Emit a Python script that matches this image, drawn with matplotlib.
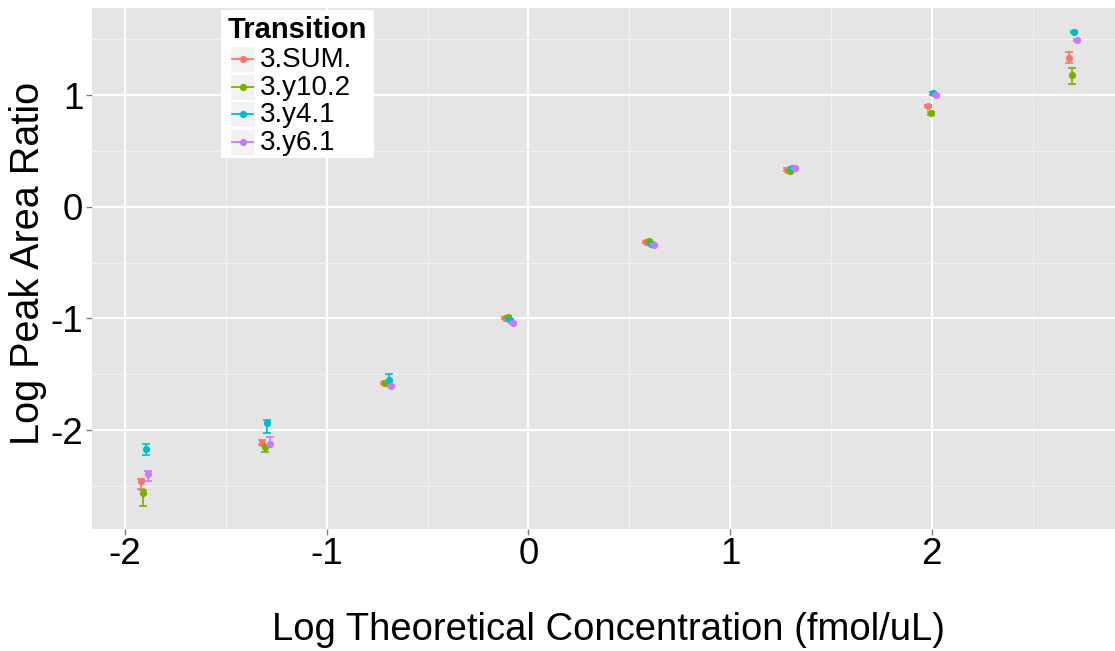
import matplotlib
matplotlib.use("Agg")
import matplotlib.pyplot as plt
from matplotlib.patches import Rectangle
from matplotlib.lines import Line2D
import numpy as np

plt.rcParams['font.family'] = ['Liberation Sans', 'DejaVu Sans']

# ---- data ----
log_conc = [-1.903, -1.301, -0.699, -0.097, 0.602, 1.301, 2.0, 2.699]
transitions = ["3.SUM.", "3.y10.2", "3.y4.1", "3.y6.1"]
sum_vals = [-2.457, -2.12, -1.577, -1.0, -0.318, 0.333, 0.904, 1.333]
y10_vals = [-2.56, -2.156, -1.575, -0.99, -0.309, 0.318, 0.841, 1.18]
y4_vals = [-2.174, -1.934, -1.55, -1.018, -0.33, 0.35, 1.015, 1.565]
y6_vals = [-2.39, -2.126, -1.606, -1.04, -0.34, 0.347, 1.0, 1.49]
# error extents below / above each point
sum_err_lo = [0.068, 0.01, 0.01, 0.01, 0.01, 0.01, 0.01, 0.05]
sum_err_hi = [0.02, 0.03, 0.01, 0.01, 0.01, 0.01, 0.01, 0.05]
y10_err_lo = [0.12, 0.045, 0.01, 0.01, 0.01, 0.01, 0.02, 0.08]
y10_err_hi = [0.02, 0.01, 0.01, 0.01, 0.01, 0.01, 0.01, 0.063]
y4_err_lo = [0.05, 0.09, 0.01, 0.01, 0.01, 0.01, 0.01, 0.01]
y4_err_hi = [0.048, 0.02, 0.054, 0.01, 0.01, 0.01, 0.01, 0.01]
y6_err_lo = [0.069, 0.01, 0.01, 0.01, 0.01, 0.01, 0.01, 0.01]
y6_err_hi = [0.024, 0.06, 0.01, 0.01, 0.01, 0.01, 0.01, 0.01]
x_ticks = [-2, -1, 0, 1, 2]
y_ticks = [-2, -1, 0, 1]

series = [sum_vals, y10_vals, y4_vals, y6_vals]
errors = [(sum_err_lo, sum_err_hi), (y10_err_lo, y10_err_hi),
          (y4_err_lo, y4_err_hi), (y6_err_lo, y6_err_hi)]
colors = ["#F8766D", "#7CAE00", "#00BFC4", "#C77CFF"]

W, H = 1115, 651
fig = plt.figure(figsize=(W / 100, H / 100), dpi=100)
fig.patch.set_facecolor("white")

left_px, right_px, top_px, bottom_px = 92, 1115, 8, 528.7
ax = fig.add_axes([left_px / W, (H - bottom_px) / H,
                   (right_px - left_px) / W, (bottom_px - top_px) / H])
ax.set_facecolor("#E5E5E5")
for s in ax.spines.values():
    s.set_visible(False)

ax.set_xlim(-2.1636, 2.908)
ax.set_ylim(-2.884, 1.78)

# grid
ax.set_xticks(x_ticks)
ax.set_yticks(y_ticks)
ax.set_xticks([-1.5, -0.5, 0.5, 1.5, 2.5], minor=True)
ax.set_yticks([-2.5, -1.5, -0.5, 0.5, 1.5], minor=True)
ax.grid(which="major", color="white", linewidth=1.5)
ax.grid(which="minor", color="#F2F2F2", linewidth=0.8)
ax.set_axisbelow(True)
ax.tick_params(which="minor", length=0)
ax.tick_params(which="major", length=4.3, width=1, color="#7F7F7F",
               labelsize=26.5, labelcolor="black", pad=2)
ax.set_xticklabels([str(t) for t in x_ticks])
ax.set_yticklabels([str(t) for t in y_ticks])

dodge = 0.05
n = len(series)
for i, (vals, (elo, ehi), col) in enumerate(zip(series, errors, colors)):
    off = (i - (n - 1) / 2) * dodge / n
    xs = np.array(log_conc) + off
    ax.errorbar(xs, vals, yerr=[elo, ehi], fmt="none", ecolor=col,
                elinewidth=1.2, capsize=2.8, capthick=1.2, zorder=3 + i)
    ax.plot(xs, vals, "o", color=col, markersize=5.2, markeredgewidth=0,
            zorder=3 + i)

# axis titles
fig.text(608 / W, (H - 640) / H, "Log Theoretical Concentration (fmol/uL)",
         ha="center", va="baseline", fontsize=27.5)
fig.text(28 / W, (H - 263) / H, "Log Peak Area Ratio", rotation=90,
         ha="center", va="center", fontsize=28.5)

# legend (drawn manually in pixel coordinates)
lax = fig.add_axes([0, 0, 1, 1], facecolor="none")
lax.set_xlim(0, W)
lax.set_ylim(H, 0)
lax.axis("off")
lax.add_patch(Rectangle((221, 10), 153, 148, facecolor="white",
                        edgecolor="none", zorder=1))
lax.text(228, 38.5, "Transition", fontsize=21, fontweight="bold",
         ha="left", va="baseline", zorder=2)
row_centers = [59.3, 86.7, 114.0, 141.7]
for name, col, yc in zip(transitions, colors, row_centers):
    lax.add_patch(Rectangle((230, yc - 13), 25, 26, facecolor="#F2F2F2",
                            edgecolor="white", linewidth=1, zorder=2))
    lax.add_line(Line2D([232, 253], [yc, yc], color=col, linewidth=1.3,
                        zorder=3))
    lax.plot([242.5], [yc], "o", color=col, markersize=5.2,
             markeredgewidth=0, zorder=4)
    lax.text(260, yc + 1, name, fontsize=20, ha="left", va="center",
             zorder=3)

fig.savefig("out.png", dpi=100)
